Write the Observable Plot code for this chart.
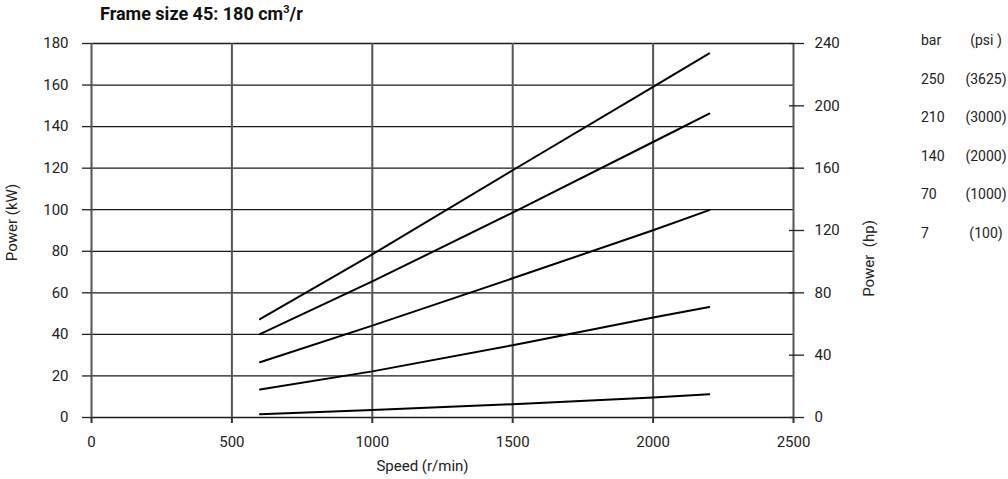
<!DOCTYPE html>
<html><head><meta charset="utf-8">
<script src="https://cdn.jsdelivr.net/npm/d3@7"></script>
<script src="https://cdn.jsdelivr.net/npm/@observablehq/plot@0.6"></script>
<style>
body{margin:0;background:#fff;}
#wrap{position:relative;width:1008px;height:479px;overflow:hidden;font-family:Roboto,"Liberation Sans",sans-serif;color:#222;}
#chart{position:absolute;left:0;top:0;}
#title{position:absolute;left:100px;top:3px;font-weight:bold;font-size:18px;color:#111;white-space:nowrap;}
#title sup{font-size:11px;}
.lg{position:absolute;font-size:14px;line-height:18px;white-space:nowrap;}
</style></head>
<body>
<div id="wrap">
  <div id="chart"></div>
  <div id="title">Frame size 45: 180 cm<sup>3</sup>/r</div>
  <div id="legend"></div>
</div>
<script>
// ---- data ----
const speeds = [600, 1000, 1500, 2000, 2200];
const p250 = [47.3, 78.5, 119.0, 159.1, 175.2];
const p210 = [40.1, 65.5, 98.6, 132.6, 146.3];
const p140 = [26.6, 44.2, 67.0, 90.1, 99.8];
const p70  = [13.5, 22.2, 34.8, 48.1, 53.2];
const p7   = [1.6, 3.6, 6.4, 9.6, 11.2];
const seriesBar = ["250", "210", "140", "70", "7"];
const seriesPsi = ["(3625)", "(3000)", "(2000)", "(1000)", "(100)"];
const legendHeader = ["bar", "(psi )"];
const kwTicks = [0, 20, 40, 60, 80, 100, 120, 140, 160, 180];
const hpTicks = [0, 40, 80, 120, 160, 200, 240];
const speedTicks = [0, 500, 1000, 1500, 2000, 2500];
const xLabel = "Speed (r/min)";
const yLabel = "Power (kW)";
const y2Label = "Power  (hp)";

const seriesValues = [p250, p210, p140, p70, p7];
const data = [];
seriesValues.forEach((vals, i) => vals.forEach((v, j) => data.push({bar: seriesBar[i], speed: speeds[j], power: v})));

const FONT = 'Roboto,"Liberation Sans",sans-serif';
const kwPerHp = 180 / 240;

const chart = Plot.plot({
  width: 1008, height: 479,
  marginLeft: 91, marginRight: 215, marginTop: 43, marginBottom: 62,
  x: {domain: [0, 2500]},
  y: {domain: [0, 180]},
  style: {fontFamily: FONT, fontSize: "15px", color: "#222", background: "transparent"},
  marks: [
    Plot.ruleY(kwTicks, {stroke: "#1a1a1a", strokeWidth: 1.3}),
    Plot.ruleX(speedTicks, {stroke: "#555", strokeWidth: 2}),
    Plot.axisY(kwTicks, {anchor: "left", tickSize: 9, tickPadding: 14, label: null, tickFormat: d => String(d), stroke: "#222", strokeWidth: 1.3}),
    Plot.axisY(hpTicks.map(h => h * kwPerHp), {anchor: "right", tickSize: 15, dx: -5, tickPadding: 11, tickFormat: d => String(Math.round(d / kwPerHp)), label: null, stroke: "#222", strokeWidth: 1.3}),
    Plot.axisX(speedTicks, {anchor: "bottom", tickSize: 6, tickPadding: 13, label: null, tickFormat: d => String(d), stroke: "#333", strokeWidth: 2}),
    Plot.line(data, {x: "speed", y: "power", z: "bar", stroke: "#000", strokeWidth: 2}),
    Plot.text([xLabel], {frameAnchor: "bottom", textAnchor: "middle", dx: -20, dy: 53, fontSize: 15, fill: "#222"}),
    Plot.text([yLabel], {frameAnchor: "left", textAnchor: "middle", dx: -79, dy: -8, rotate: -90, fontSize: 15, fill: "#222"}),
    Plot.text([y2Label], {frameAnchor: "right", textAnchor: "middle", dx: 76, dy: 28, rotate: -90, fontSize: 15, fill: "#222"})
  ]
});
document.getElementById("chart").appendChild(chart);

// legend
const lg = document.getElementById("legend");
const rows = [legendHeader].concat(seriesBar.map((b, i) => [b, seriesPsi[i]]));
rows.forEach((r, i) => {
  const yc = 40 + i * 38.6;
  const a = document.createElement("div");
  a.className = "lg"; a.textContent = r[0];
  a.style.left = "921px"; a.style.top = (yc - 9) + "px";
  lg.appendChild(a);
  const b = document.createElement("div");
  b.className = "lg"; b.textContent = r[1];
  b.style.left = "986px"; b.style.top = (yc - 9) + "px"; b.style.transform = "translateX(-50%)";
  lg.appendChild(b);
});
</script>
</body></html>
